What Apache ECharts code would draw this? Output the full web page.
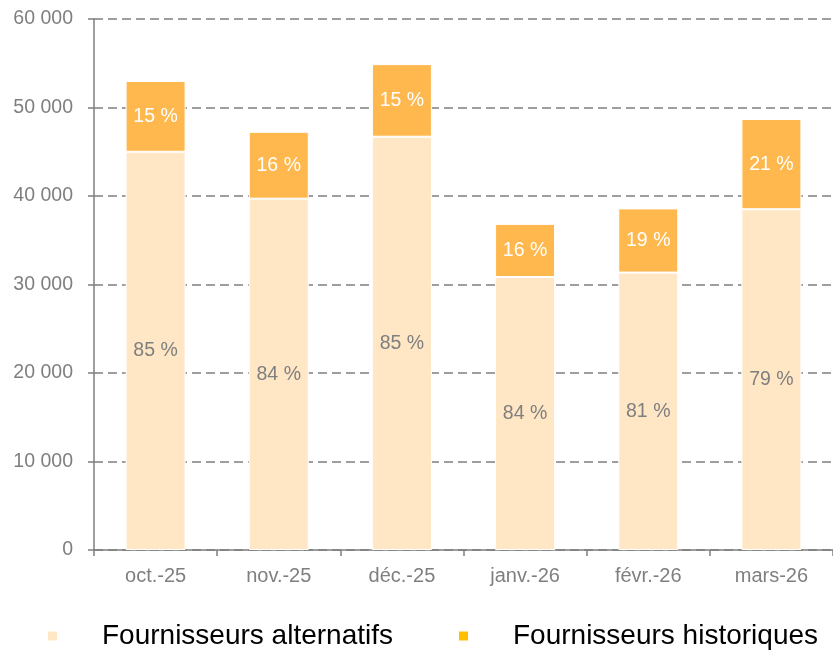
<!DOCTYPE html>
<html>
<head>
<meta charset="utf-8">
<script src="https://cdn.jsdelivr.net/npm/echarts@6/dist/echarts.min.js"></script>
<style>
  html, body { margin: 0; padding: 0; background: #fff; }
  #chart { width: 833px; height: 652px; }
</style>
</head>
<body>
<div id="chart"></div>
<script>
// Monthly volumes by supplier type
const months = ['oct.-25', 'nov.-25', 'déc.-25', 'janv.-26', 'févr.-26', 'mars-26'];
const alternatifs = [45000, 39700, 46700, 30850, 31350, 38500];
const historiques = [8000, 7550, 8200, 6000, 7250, 10200];
const yTicks = [0, 10000, 20000, 30000, 40000, 50000, 60000];

const totals = months.map((_, i) => alternatifs[i] + historiques[i]);
const pct = (arr) => (p) => Math.round(arr[p.dataIndex] / totals[p.dataIndex] * 100) + ' %';
const fmt = (v) => String(v).replace(/\B(?=(\d{3})+(?!\d))/g, ' ');

const grey = '#7f7f7f';
const font = 'Liberation Sans, Arial, sans-serif';

const chart = echarts.init(document.getElementById('chart'));
chart.setOption({
  animation: false,
  textStyle: { fontFamily: font },
  grid: { left: 94, top: 19, width: 747, bottom: 102, containLabel: false },
  legend: {
    top: 617,
    left: 41,
    itemWidth: 11,
    itemHeight: 11,
    itemGap: 64,
    icon: 'rect',
    textStyle: { fontSize: 28, color: '#000', fontFamily: font, padding: [0, 0, 0, 39] },
    data: [
      { name: 'Fournisseurs alternatifs', itemStyle: { color: '#FFE6C5' } },
      { name: 'Fournisseurs historiques', itemStyle: { color: '#FFC000' } }
    ]
  },
  xAxis: {
    type: 'category',
    data: months,
    axisLine: { lineStyle: { color: grey, width: 1.5 } },
    axisTick: { show: true, length: 6, lineStyle: { color: grey, width: 1.5 } },
    axisLabel: { color: grey, fontSize: 20, margin: 16, fontFamily: font }
  },
  yAxis: {
    type: 'value',
    min: yTicks[0],
    max: yTicks[yTicks.length - 1],
    interval: yTicks[1] - yTicks[0],
    axisLine: { show: true, lineStyle: { color: grey, width: 1.5 } },
    axisTick: { show: true, length: 6, lineStyle: { color: grey, width: 1.5 } },
    axisLabel: { color: grey, fontSize: 19.5, margin: 21, formatter: fmt, fontFamily: font },
    splitLine: { lineStyle: { color: grey, width: 1.5, type: [9, 5] } }
  },
  series: [
    {
      name: 'Fournisseurs alternatifs',
      type: 'bar',
      stack: 'total',
      barWidth: 60,
      data: alternatifs,
      itemStyle: { color: '#FFE6C5', borderColor: '#fff', borderWidth: 1 },
      label: { show: true, position: 'inside', color: grey, fontSize: 19.5, formatter: pct(alternatifs), fontFamily: font }
    },
    {
      name: 'Fournisseurs historiques',
      type: 'bar',
      stack: 'total',
      data: historiques,
      itemStyle: { color: '#FFB84D', borderColor: '#fff', borderWidth: 1 },
      label: { show: true, position: 'inside', color: '#fff', fontSize: 19.5, formatter: pct(historiques), fontFamily: font }
    }
  ]
});
</script>
</body>
</html>
